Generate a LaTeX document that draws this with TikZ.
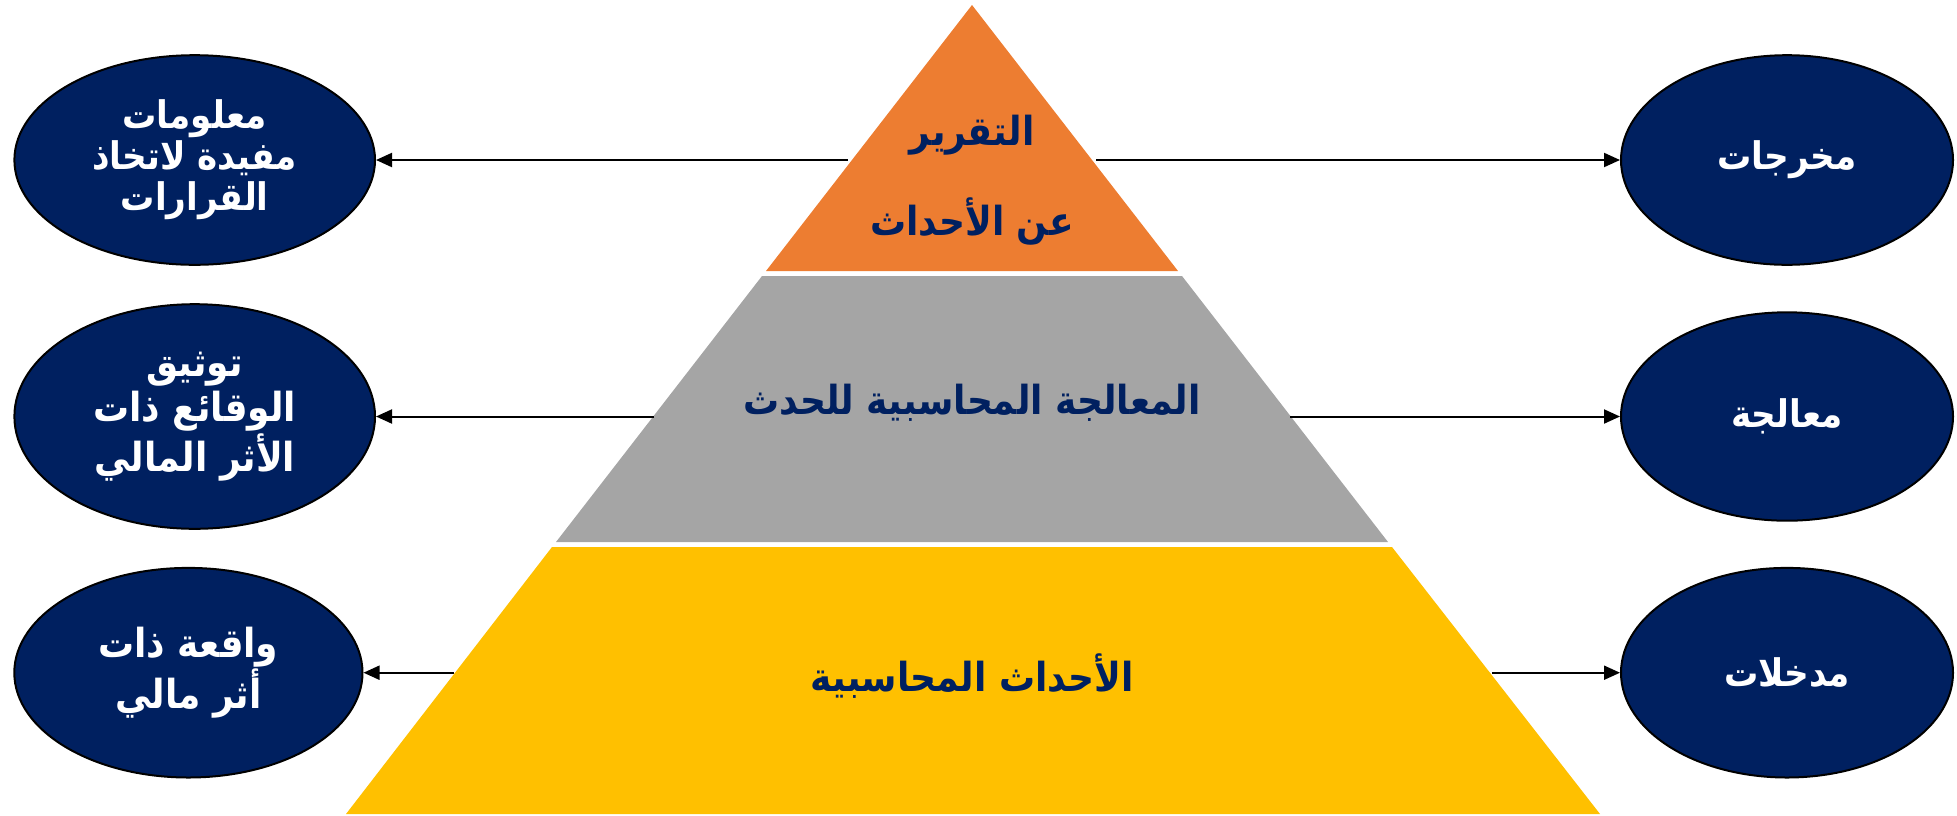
\documentclass[tikz,border=0pt]{standalone}
\usepackage{fontspec}
\newfontfamily\arabicfont[Script=Arabic]{DejaVu Sans Condensed}
\TeXXeTstate=1
\usetikzlibrary{arrows.meta,shapes.geometric}
\definecolor{navy}{HTML}{002060}
\definecolor{orng}{HTML}{ED7D31}
\definecolor{gry}{HTML}{A5A5A5}
\definecolor{yel}{HTML}{FFC000}
\newcommand{\ar}[1]{\beginR #1\endR}
\tikzset{
  oval/.style={ellipse, draw=black, line width=1pt, fill=navy, text=white,
    font=\arabicfont\bfseries\fontsize{19}{20.5}\selectfont, align=center, inner sep=0pt},
  ptext/.style={text=navy, font=\arabicfont\bfseries\fontsize{20}{22}\selectfont, align=center},
  conn/.style={line width=1pt, -{Triangle[length=8pt,width=7pt]}}
}
\begin{document}
\begin{tikzpicture}[x=0.5pt,y=-0.5pt]
\useasboundingbox (0,0) rectangle (1957,815);
% pyramid
\fill[orng] (972,5) -- (1178,271) -- (766,271) -- cycle;
\fill[gry] (762,276) -- (1182,276) -- (1388,542) -- (556,542) -- cycle;
\fill[yel] (552,547) -- (1392,547) -- (1600,814) -- (346,814) -- cycle;
% texts in pyramid
\node[ptext] (ttop) at (972,180) {\ar{التقرير}\\[20pt]\ar{عن الأحداث}};
\node[ptext] (tmid) at (972,403) {\ar{المعالجة المحاسبية للحدث}};
\node[ptext] (tbot) at (972,676) {\ar{الأحداث المحاسبية}};
% ellipses
\node[oval, minimum width=180.3pt, minimum height=104.8pt] (L1) at (194.7,160) {\ar{معلومات}\\\ar{مفيدة لاتخاذ}\\\ar{القرارات}};
\node[oval, minimum width=180.3pt, minimum height=112.3pt, font=\arabicfont\bfseries\fontsize{20}{22.5}\selectfont] (L2) at (194.7,416.5) {\ar{توثيق}\\\ar{الوقائع ذات}\\\ar{الأثر المالي}};
\node[oval, minimum width=174.1pt, minimum height=104.8pt, font=\arabicfont\bfseries\fontsize{20}{23}\selectfont] (L3) at (188.4,672.7) {\ar{واقعة ذات}\\\ar{أثر مالي}};
\node[oval, minimum width=166pt, minimum height=104.8pt] (R1) at (1787,160) {\ar{مخرجات}};
\node[oval, minimum width=166pt, minimum height=104.2pt] (R2) at (1787,416.5) {\ar{معالجة}};
\node[oval, minimum width=166pt, minimum height=104.8pt] (R3) at (1787,672.7) {\ar{مدخلات}};
% connector ends on pyramid edges
\coordinate (a1) at (848,160);
\coordinate (b1) at (1096,160);
\coordinate (a2) at (654,416.5);
\coordinate (b2) at (1290,416.5);
\coordinate (a3) at (454,672.7);
\coordinate (b3) at (1492,672.7);
\draw[conn] (a1) -- (L1.east);
\draw[conn] (b1) -- (R1.west);
\draw[conn] (a2) -- (L2.east);
\draw[conn] (b2) -- (R2.west);
\draw[conn] (a3) -- (L3.east);
\draw[conn] (b3) -- (R3.west);
\end{tikzpicture}
\end{document}
